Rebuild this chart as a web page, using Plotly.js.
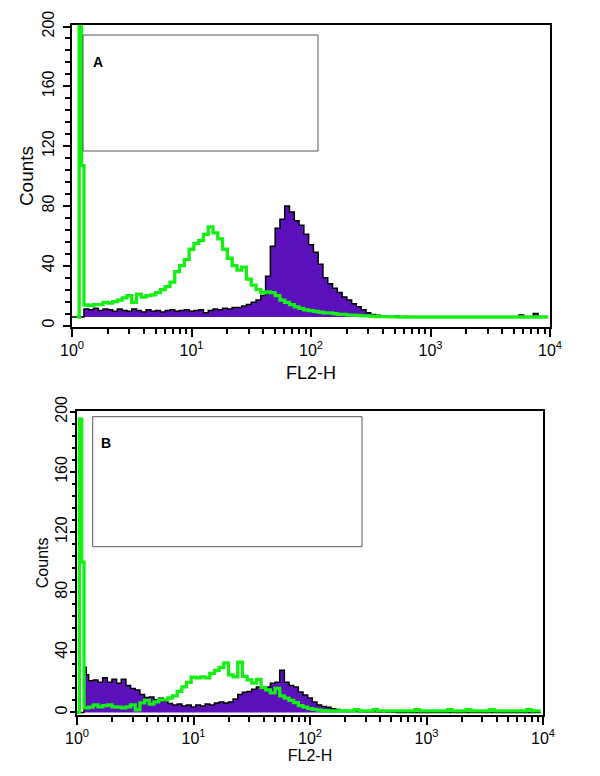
<!DOCTYPE html>
<html>
<head>
<meta charset="utf-8">
<script src="https://cdn.plot.ly/plotly-3.0.1.min.js"></script>
<style>
  html, body { margin: 0; padding: 0; background: #fff; }
  #chart { width: 600px; height: 776px; }
</style>
</head>
<body>
<div id="chart"></div>
<script>
// ---- channel grid (log10 of FL2-H bin start): fine bins at the left edge, then regular bins ----
const fineLog = [0.00, 0.02, 0.04, 0.06, 0.08];
const coarseStart = 0.10;
const coarseStep = 0.04;
const coarseCount = 98;
const fl2Log = fineLog.concat(Array.from({length: coarseCount}, (_, i) => coarseStart + i * coarseStep));
const fl2Channels = fl2Log.map(e => Math.pow(10, e));

// ---- Panel A ----
const floorA = 5.7;
const purpleA = [
  5.7, 5.7, 5.7, 5.7, 5.7,
  11, 10.5, 11.5, 10, 11, 10.5, 9.5, 11, 10, 9.5,
  11, 10, 9, 10.5, 9.5, 10, 9, 10, 10.5, 9.5,
  10, 10.5, 9.5, 10, 10.5, 8.5, 10, 11, 10.5, 11.5,
  11, 12, 12, 13, 14, 15.5, 17, 20, 33, 53,
  65, 71, 80, 76, 70, 67, 61, 54, 49, 41,
  32, 28, 25, 22, 19, 17, 14.5, 12.5, 10.5, 8.5,
  7.3, 6.8, 6.3, 6.6, 6, 6.3, 5.7, 6, 5.7, 5.7,
  5.7, 5.7, 5.7, 5.7, 5.7, 5.7, 5.7, 5.7, 5.7, 5.7,
  5.7, 5.7, 5.7, 5.7, 5.7, 5.7, 5.7, 5.7, 5.7, 5.7,
  5.7, 7, 5.7, 5.7, 8, 5.7, 5.7, 5.7
];
const greenA = [
  null, null, 5.7, 250, 107,
  13.7, 13.5, 14, 14, 15.5, 15, 16, 17, 18.5, 20,
  15.5, 21, 19, 20, 20.5, 22, 24, 26, 29, 36,
  40, 44, 51, 55, 57, 61, 66, 62, 58, 51,
  45, 40, 37, 39, 31, 27, 24, 22, 22.5, 22,
  20, 17, 15.5, 14, 12.5, 11.5, 10.5, 10, 9.5, 9,
  8.5, 8.5, 8, 7.5, 7.5, 7, 7, 6.8, 6.5, 6.4,
  6.2, 6, 6, 5.9, 5.8, 5.8, 5.7, 5.7, 5.7, 5.7,
  5.7, 5.7, 5.7, 5.7, 5.7, 5.7, 5.7, 5.7, 5.7, 5.7,
  5.7, 5.7, 5.7, 5.7, 5.7, 5.7, 5.7, 5.7, 5.7, 5.7,
  5.7, 5.7, 5.7, 5.7, 5.7, 5.7, 5.7, 5.7
];

// ---- Panel B ----
const floorB = 0;
const purpleB = [
  0, 0, 0, 30, 25,
  21, 21.5, 20, 23, 20, 22, 19.5, 22, 18,
  16, 15, 12, 10, 10.3, 8.5, 9.5, 7.5, 6, 5,
  5.6, 4.3, 5, 3.7, 5, 4.3, 5.6, 5, 6.3, 7,
  6.3, 7, 9, 12, 13.5, 14, 15.5, 17, 16, 17,
  19.5, 20, 28, 20, 18, 17, 13.6, 11.6, 9.6, 7,
  5, 4, 3.5, 2.5, 2, 1.5, 1.2, 1, 0.8, 0.7,
  0.7, 0.6, 0.6, 0.5, 0.5, 0.4, 0.3, 0, 0, 0,
  0, 0, 0, 0, 0, 0, 0, 0, 0, 0,
  0, 0, 0, 0, 0, 0, 0, 0, 0, 0,
  0, 0, 0, 0, 0, 0, 0, 0, 0
];
const greenB = [
  0, 195, 100, 3, 3,
  3.5, 5, 3.7, 4.5, 5, 3.7, 3.5, 3, 3.7,
  5, 1.8, 6.3, 8, 5.5, 7, 8.3, 8.3, 9.6, 11,
  14, 17, 20, 23.5, 23, 23.6, 23, 26, 28, 30,
  33, 25, 23.6, 33.5, 24, 21.6, 19.6, 22, 16.5, 15,
  13, 16, 11, 9.5, 8, 6.5, 4.5, 3.5, 2.5, 2,
  1.5, 1.2, 1, 1, 1, 1.2, 1, 1, 1.8, 1,
  1, 1, 1.8, 1, 1, 1, 1, 1, 1, 1,
  1, 1.8, 1, 1, 1, 1, 1, 1, 1.8, 1,
  1, 1, 1.8, 1, 1, 1, 1, 1.8, 1, 1,
  1, 1, 1, 1, 1, 1.8, 1, 1, 1
];

// ---- tick labels / texts ----
const decadeVals = [1, 10, 100, 1000, 10000];
const decadeText = ['10<sup>0</sup>', '10<sup>1</sup>', '10<sup>2</sup>', '10<sup>3</sup>', '10<sup>4</sup>'];
const xTitle = 'FL2-H';
const yTitle = 'Counts';
const panelLabels = ['A', 'B'];

const PURPLE = '#5c10bc';
const GREEN = '#14f014';
const FONT = 'Liberation Sans, Arial, sans-serif';
const W = 600, H = 776;
const fx = p => p / W;
const fy = p => 1 - p / H;

function panelTraces(xa, ya, floorVal, purple, green) {
  return [
    { x: fl2Channels, y: fl2Channels.map(() => floorVal), xaxis: xa, yaxis: ya,
      mode: 'lines', line: {width: 0, shape: 'hv'}, hoverinfo: 'skip', showlegend: false },
    { x: fl2Channels, y: purple, xaxis: xa, yaxis: ya, mode: 'lines', fill: 'tonexty',
      fillcolor: PURPLE, line: {color: '#000', width: 1.5, shape: 'hv'}, showlegend: false },
    { x: fl2Channels, y: green, xaxis: xa, yaxis: ya, mode: 'lines',
      line: {color: GREEN, width: 3.3, shape: 'hv'}, showlegend: false }
  ];
}

const data = [
  ...panelTraces('x', 'y', floorA, purpleA, greenA),
  ...panelTraces('x2', 'y2', floorB, purpleB, greenB)
];

function xAxis(domain, anchor, fs, tfs, standoff) {
  return {
    type: 'log', domain: domain, anchor: anchor, range: [0, 4],
    showline: true, mirror: true, linecolor: '#000', linewidth: 2,
    showgrid: false, zeroline: false,
    tickmode: 'array', tickvals: decadeVals, ticktext: decadeText,
    ticks: 'outside', ticklen: 8, tickwidth: 2, tickcolor: '#000',
    minor: {dtick: 'D1', ticks: 'outside', ticklen: 5, tickwidth: 2, tickcolor: '#000'},
    tickfont: {family: FONT, size: fs, color: '#000'},
    title: {text: xTitle, font: {family: FONT, size: tfs, color: '#000'}, standoff: standoff}
  };
}
function yAxis(domain, anchor, range, fs, tfs, tlen, labelStandoff, standoff) {
  return {
    domain: domain, anchor: anchor, range: range,
    showline: true, mirror: true, linecolor: '#000', linewidth: 2,
    showgrid: false, zeroline: false,
    tickmode: 'linear', tick0: 0, dtick: 40, tickangle: -90,
    ticks: 'outside', ticklen: tlen, tickwidth: 2, tickcolor: '#000',
    minor: {dtick: 8, tick0: 0, ticks: 'outside', ticklen: tlen - 2, tickwidth: 2, tickcolor: '#000'},
    ticklabelstandoff: labelStandoff,
    tickfont: {family: FONT, size: fs, color: '#000'},
    title: {text: yTitle, font: {family: FONT, size: tfs, color: '#000'}, standoff: standoff}
  };
}

const layout = {
  width: W, height: H,
  margin: {l: 0, r: 0, t: 0, b: 0},
  paper_bgcolor: '#fff', plot_bgcolor: '#fff',
  showlegend: false,
  xaxis: xAxis([fx(72), fx(550)], 'y', 16, 18, 8),
  yaxis: yAxis([fy(327), fy(25)], 'x', [-1, 201], 16, 19, 7, 3, 1),
  xaxis2: xAxis([fx(77), fx(543)], 'y2', 16, 16, 1),
  yaxis2: yAxis([fy(715), fy(410.7)], 'x2', [-1.7, 200.7], 16, 16, 5, -3, 0),
  shapes: [
    {type: 'rect', xref: 'paper', yref: 'paper', x0: fx(83), x1: fx(318), y0: fy(151), y1: fy(35),
     line: {color: '#555', width: 1}},
    {type: 'rect', xref: 'paper', yref: 'paper', x0: fx(92.7), x1: fx(362), y0: fy(546.7), y1: fy(416.7),
     line: {color: '#555', width: 1}}
  ],
  annotations: [
    {text: '<b>' + panelLabels[0] + '</b>', xref: 'paper', yref: 'paper', x: fx(97.5), y: fy(62),
     xanchor: 'center', yanchor: 'middle', showarrow: false, font: {family: FONT, size: 14, color: '#000'}},
    {text: '<b>' + panelLabels[1] + '</b>', xref: 'paper', yref: 'paper', x: fx(106), y: fy(442.5),
     xanchor: 'center', yanchor: 'middle', showarrow: false, font: {family: FONT, size: 14, color: '#000'}}
  ]
};

Plotly.newPlot('chart', data, layout, {staticPlot: true, displayModeBar: false});
</script>
</body>
</html>
